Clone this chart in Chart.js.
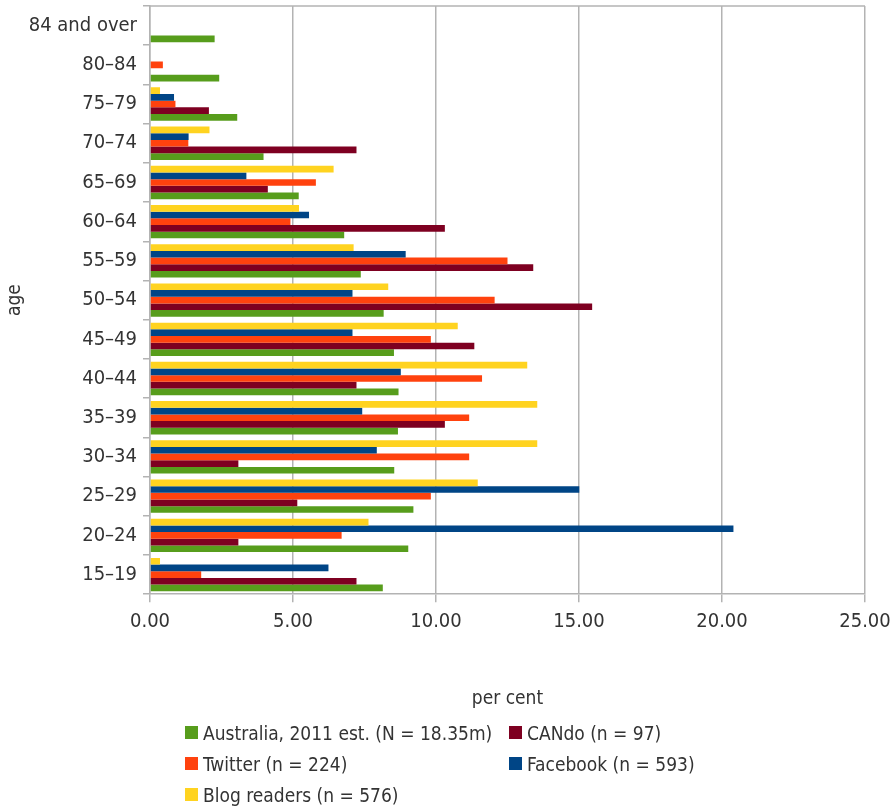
<!DOCTYPE html>
<html>
<head>
<meta charset="utf-8">
<script src="https://cdn.jsdelivr.net/npm/chart.js@4.4.0/dist/chart.umd.min.js"></script>
<style>
  body { margin: 0; background: #fff; }
  #wrap { position: relative; width: 894px; height: 806px; }
  #legend {
    position: absolute; left: 185px; top: 717px;
    display: grid; grid-template-columns: 324px auto;
    font: 19px "DejaVu Sans Condensed", "DejaVu Sans", sans-serif; color: #333;
  }
  .item { display: flex; align-items: center; height: 31px; white-space: nowrap; }
  .box { flex-shrink: 0; width: 13px; height: 13px; margin-right: 5px; }
</style>
</head>
<body>
<div id="wrap">
  <canvas id="myChart" width="894" height="806"></canvas>
  <div id="legend"></div>
</div>
<script>
const ageGroups = ["15–19", "20–24", "25–29", "30–34", "35–39", "40–44", "45–49",
  "50–54", "55–59", "60–64", "65–69", "70–74", "75–79", "80–84", "84 and over"];

const australia = [8.14, 9.03, 9.21, 8.54, 8.67, 8.69, 8.53, 8.17, 7.37, 6.79, 5.20, 3.97, 3.05, 2.42, 2.26];
const cando     = [7.22, 3.09, 5.15, 3.09, 10.31, 7.22, 11.34, 15.46, 13.40, 10.31, 4.12, 7.22, 2.06, 0, 0];
const twitter   = [1.79, 6.70, 9.82, 11.16, 11.16, 11.61, 9.82, 12.05, 12.50, 4.91, 5.80, 1.34, 0.89, 0.45, 0];
const facebook  = [6.24, 20.40, 15.01, 7.93, 7.42, 8.77, 7.08, 7.08, 8.94, 5.56, 3.37, 1.35, 0.84, 0, 0];
const blog      = [0.35, 7.64, 11.46, 13.54, 13.54, 13.19, 10.76, 8.33, 7.12, 5.21, 6.42, 2.08, 0.35, 0, 0];

const FONT = '"DejaVu Sans Condensed", "DejaVu Sans", sans-serif';
const GRID = "#b3b3b3";

const topBorder = {
  id: "topBorder",
  afterDraw(chart) {
    const { ctx, chartArea } = chart;
    ctx.save();
    ctx.strokeStyle = GRID;
    ctx.lineWidth = 1.5;
    ctx.beginPath();
    ctx.moveTo(chartArea.left, chartArea.top);
    ctx.lineTo(chartArea.right, chartArea.top);
    ctx.stroke();
    ctx.restore();
  },
};

const ctx = document.getElementById("myChart").getContext("2d");

// listed top-to-bottom inside each age group (yellow on top, green at the bottom)
const data = {
  labels: ageGroups,
  datasets: [
    { label: "Blog readers (n = 576)", data: blog, backgroundColor: "#ffd320" },
    { label: "Facebook (n = 593)", data: facebook, backgroundColor: "#004586" },
    { label: "Twitter (n = 224)", data: twitter, backgroundColor: "#ff420e" },
    { label: "CANdo (n = 97)", data: cando, backgroundColor: "#7e0021" },
    { label: "Australia, 2011 est. (N = 18.35m)", data: australia, backgroundColor: "#579d1c" },
  ],
};

const chart = new Chart(ctx, {
  type: "bar",
  data: data,
  plugins: [topBorder],
  options: {
    indexAxis: "y",
    responsive: false,
    animation: false,
    layout: { padding: { top: 6, right: 29, bottom: 96, left: 0 } },
    datasets: { bar: { categoryPercentage: 0.85, barPercentage: 1.0 } },
    plugins: { legend: { display: false }, tooltip: { enabled: false } },
    scales: {
      x: {
        min: 0,
        max: 25,
        ticks: {
          stepSize: 5,
          callback: (v) => v.toFixed(2),
          font: { family: FONT, size: 20 },
          color: "#333",
          padding: 8,
        },
        grid: { color: GRID, lineWidth: 1.5, tickLength: 8 },
        border: { color: GRID, width: 1.5 },
        title: {
          display: true,
          text: "per cent",
          font: { family: FONT, size: 19 },
          color: "#333",
          padding: { top: 45, bottom: 0 },
        },
        afterFit: (scale) => { scale.paddingRight = 29; },
      },
      y: {
        reverse: true,
        ticks: { font: { family: FONT, size: 20 }, color: "#333", padding: 6 },
        grid: { offset: true, drawOnChartArea: false, tickLength: 7, color: GRID, lineWidth: 1.5 },
        border: { color: GRID, width: 1.5 },
        title: {
          display: true,
          text: "age",
          font: { family: FONT, size: 19 },
          color: "#333",
          padding: { top: 4, bottom: 0 },
        },
        afterFit: (scale) => {
          scale.width = 150;
          scale.paddingTop = 0;
          scale.paddingBottom = 0;
        },
      },
    },
  },
});

// legend in two columns, in the original's order
const legend = document.getElementById("legend");
chart.data.datasets.slice().reverse().forEach((ds) => {
  const item = document.createElement("div");
  item.className = "item";
  const box = document.createElement("span");
  box.className = "box";
  box.style.background = ds.backgroundColor;
  item.appendChild(box);
  item.appendChild(document.createTextNode(ds.label));
  legend.appendChild(item);
});
</script>
</body>
</html>
